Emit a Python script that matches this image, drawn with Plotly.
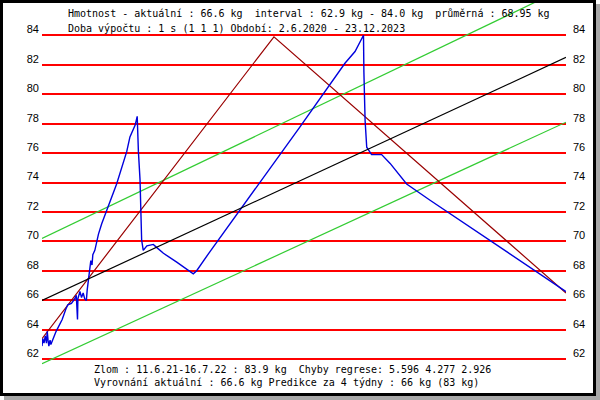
import plotly.graph_objects as go

# mereni hmotnosti
dates = [
    "2020-06-02", "2020-06-04", "2020-06-07", "2020-06-10", "2020-06-13",
    "2020-06-15", "2020-06-17", "2020-06-19", "2020-06-22", "2020-06-24",
    "2020-07-07", "2020-07-22", "2020-07-31", "2020-08-05", "2020-08-14",
    "2020-08-22", "2020-08-26", "2020-08-29", "2020-08-30", "2020-09-04",
    "2020-09-08", "2020-09-12", "2020-09-16", "2020-09-20", "2020-09-22",
    "2020-09-26", "2020-09-28", "2020-10-01", "2020-10-04", "2020-10-06",
    "2020-10-11", "2020-10-15", "2020-10-20", "2020-10-28", "2020-11-09",
    "2020-12-04", "2020-12-29", "2021-01-06", "2021-01-19", "2021-01-23",
    "2021-01-24", "2021-01-27", "2021-01-31", "2021-02-04", "2021-02-08",
    "2021-02-17", "2021-03-05", "2021-03-13", "2021-03-30", "2021-05-02",
    "2021-06-12", "2021-06-20", "2021-07-23", "2022-03-04", "2022-06-23",
    "2022-07-18", "2022-08-08", "2022-08-09", "2022-08-12", "2022-08-16",
    "2022-08-28", "2022-09-22", "2022-10-13", "2022-11-23", "2023-01-20",
    "2023-12-23",
]
weights = [
    62.9, 63.4, 63.1, 63.6, 63.1,
    63.9, 63.3, 62.9, 63.3, 63.0,
    63.9, 64.7, 65.4, 65.7, 65.8,
    66.1, 66.35, 64.7, 66.1, 66.6,
    66.2, 66.5, 66.1, 66.0, 66.7,
    67.6, 68.3, 68.7, 68.4, 69.1,
    69.4, 70.0, 70.5, 71.2, 72.1,
    73.9, 76.1, 77.1, 77.9, 78.3,
    78.5, 76.1, 74.2, 70.1, 69.4,
    69.7, 69.8, 69.6, 69.2, 68.6,
    67.8, 68.0, 69.3, 77.8, 82.1,
    82.9, 84.0, 81.5, 78.2, 76.4,
    75.9, 75.9, 75.3, 73.9, 72.8,
    66.6,
]

# regrese se zlomem
break_dates = ["2020-06-02", "2021-12-29", "2023-12-23"]
break_vals = [63.4, 83.9, 66.5]

# linearni regrese a pasmo
trend_dates = ["2020-06-02", "2023-12-23"]
trend_vals = [66.0, 82.5]
upper_vals = [70.2, 87.25]
lower_vals = [61.7, 78.1]

y_ticks = [62, 64, 66, 68, 70, 72, 74, 76, 78, 80, 82, 84]

header = [
    "Hmotnost - aktuální : 66.6 kg  interval : 62.9 kg - 84.0 kg  průměrná : 68.95 kg",
    "Doba výpočtu : 1 s (1 1 1) Období: 2.6.2020 - 23.12.2023",
]
footer = [
    "Zlom : 11.6.21-16.7.22 : 83.9 kg  Chyby regrese: 5.596 4.277 2.926",
    "Vyrovnání aktuální : 66.6 kg Predikce za 4 týdny : 66 kg (83 kg)",
]

W, H = 600, 400
L, R, T, B = 42, 34, 3, 35


def px2x(px):
    return (px - L) / (W - L - R)


def px2y(py):
    return (H - B - py) / (H - T - B)


fig = go.Figure()

fig.add_trace(go.Scatter(x=trend_dates, y=upper_vals, mode="lines",
                         line=dict(color="#33cc33", width=1.2)))
fig.add_trace(go.Scatter(x=trend_dates, y=lower_vals, mode="lines",
                         line=dict(color="#33cc33", width=1.2)))
fig.add_trace(go.Scatter(x=trend_dates, y=trend_vals, mode="lines", yaxis="y2",
                         line=dict(color="black", width=1.2)))
fig.add_trace(go.Scatter(x=break_dates, y=break_vals, mode="lines",
                         line=dict(color="#990000", width=1.2)))
fig.add_trace(go.Scatter(x=dates, y=weights, mode="lines",
                         line=dict(color="#0000dd", width=1.4)))

yrange = [61.613, 86.193]
tick_font = dict(family="Liberation Sans", size=11, color="black")

fig.update_layout(
    width=W, height=H,
    margin=dict(l=L, r=R, t=T, b=B),
    paper_bgcolor="white",
    plot_bgcolor="white",
    showlegend=False,
    xaxis=dict(range=["2020-06-02", "2023-12-23"], showgrid=False,
               showticklabels=False, zeroline=False, showline=False),
    yaxis=dict(range=yrange, tickvals=y_ticks, showgrid=True,
               gridcolor="#ff0000", gridwidth=1.5, zeroline=False,
               ticks="", tickfont=tick_font, ticklabelshift=-6,
               ticklabelstandoff=2),
    yaxis2=dict(range=yrange, tickvals=y_ticks, overlaying="y", side="right",
                showgrid=False, zeroline=False, ticks="", tickfont=tick_font,
                ticklabelshift=-6, ticklabelstandoff=6),
)

mono = dict(family="DejaVu Sans Mono", size=10, color="black")
for text, py in zip(header, [13.5, 28.5]):
    fig.add_annotation(text=text, xref="paper", yref="paper", x=px2x(66),
                       y=px2y(py), xanchor="left", yanchor="middle",
                       showarrow=False, font=mono)
for text, py in zip(footer, [369.5, 382.5]):
    fig.add_annotation(text=text, xref="paper", yref="paper", x=px2x(92),
                       y=px2y(py), xanchor="left", yanchor="middle",
                       showarrow=False, font=mono)

# ramecek se stinem
fig.add_shape(type="rect", xref="paper", yref="paper", layer="above",
              x0=px2x(596), x1=px2x(600), y0=px2y(4), y1=px2y(400),
              fillcolor="#a8a8a8", line=dict(width=0))
fig.add_shape(type="rect", xref="paper", yref="paper", layer="above",
              x0=px2x(4), x1=px2x(600), y0=px2y(396), y1=px2y(400),
              fillcolor="#a8a8a8", line=dict(width=0))
fig.add_shape(type="rect", xref="paper", yref="paper", layer="above",
              x0=px2x(1.5), x1=px2x(594.5), y0=px2y(1.5), y1=px2y(394.5),
              line=dict(color="black", width=3))

fig.write_html("out.html", config={"displayModeBar": False},
               post_script="document.body.style.margin='0';")
